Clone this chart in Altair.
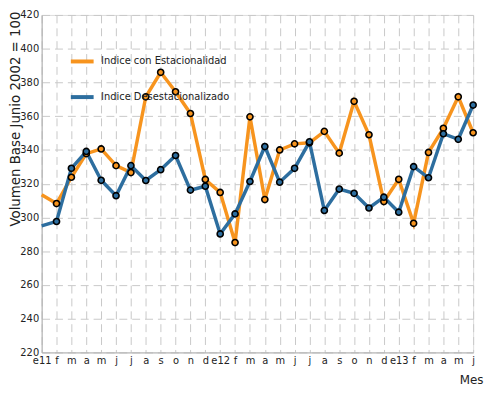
import altair as alt
import pandas as pd

months = ["e11", "f", "m", "a", "m", "j", "j", "a", "s", "o", "n", "d",
          "e12", "f", "m", "a", "m", "j", "j", "a", "s", "o", "n", "d",
          "e13", "f", "m", "a", "m", "j"]
con_estacionalidad = [313.5, 308.2, 323.8, 337.8, 340.6, 330.7, 326.6, 371.5, 386.0, 374.5,
                      361.6, 322.5, 314.8, 285.1, 359.6, 310.6, 340.0, 343.6, 344.2, 351.0,
                      338.1, 368.8, 349.0, 309.4, 322.6, 296.5, 338.5, 352.8, 371.5, 350.2]
desestacionalizado = [295.0, 297.6, 329.1, 339.1, 322.0, 312.9, 330.7, 321.9, 328.3, 336.7,
                      316.2, 318.5, 290.2, 302.1, 321.3, 342.0, 320.9, 329.1, 344.8, 304.1,
                      316.8, 314.3, 305.6, 312.0, 303.1, 330.1, 323.5, 349.6, 346.3, 366.6]
series_names = ["Indice con Estacionalidad", "Indice Desestacionalizado"]
series_colors = ["#F7941E", "#2D6E9F"]
y_ticks = list(range(220, 421, 20))

rows = []
for i, m in enumerate(months):
    rows.append({"idx": i, "mes": m, "serie": series_names[0], "valor": con_estacionalidad[i]})
    rows.append({"idx": i, "mes": m, "serie": series_names[1], "valor": desestacionalizado[i]})
df = pd.DataFrame(rows)

label_expr = "[" + ",".join("'%s'" % m for m in months) + "][datum.value]"

x_enc = alt.X("idx:Q",
              scale=alt.Scale(domain=[0, len(months) - 1], nice=False, zero=False),
              axis=alt.Axis(values=list(range(len(months))), labelExpr=label_expr,
                            title="Mes", titleAnchor="end", titleFontSize=12,
                            titleFontWeight="normal", titlePadding=9, titleColor="#222",
                            titleX=446,
                            labelFontSize=10, labelColor="#222", labelPadding=3,
                            labelFlush=False, labelOverlap=False, labelAngle=0,
                            ticks=False, domainColor="#b0b0b0",
                            grid=True, gridColor="#c8c8c8", gridDash=[8, 5], gridWidth=1))
y_enc = alt.Y("valor:Q",
              scale=alt.Scale(domain=[220, 420], nice=False, zero=False),
              axis=alt.Axis(values=y_ticks, title="Volumen Base Junio 2002 = 100",
                            titleFontSize=13.5, titleFontWeight="normal", titleColor="#222",
                            titleAngle=-90, titleAlign="right", titleAnchor="end",
                            titleX=-22, titleY=-4, titleBaseline="alphabetic",
                            labelFontSize=10, labelColor="#222", labelPadding=3,
                            ticks=False, domainColor="#b0b0b0",
                            grid=True, gridColor="#c8c8c8", gridDash=[8, 5], gridWidth=1))
color_enc = alt.Color("serie:N",
                      scale=alt.Scale(domain=series_names, range=series_colors),
                      legend=alt.Legend(title=None, orient="none", legendX=27, legendY=33,
                                        symbolType="stroke", symbolSize=530,
                                        symbolStrokeWidth=4, labelFontSize=10,
                                        labelColor="#222", labelOffset=5,
                                        rowPadding=14, padding=0))

lines = alt.Chart(df).mark_line(strokeWidth=3.5).encode(
    x=x_enc, y=y_enc, color=color_enc, detail="serie:N"
)
points = alt.Chart(df).transform_filter("datum.idx > 0").mark_point(
    filled=True, size=38, stroke="black", strokeWidth=1.6, opacity=1
).encode(
    x=x_enc, y=y_enc,
    color=alt.Color("serie:N", scale=alt.Scale(domain=series_names, range=series_colors),
                    legend=None)
)

chart = alt.layer(lines, points).properties(
    width=436, height=341,
    autosize=alt.AutoSizeParams(type="none"),
    padding={"left": 34, "top": 5, "right": 12, "bottom": 40},
).configure_view(stroke=None).configure(font="DejaVu Sans")

chart.save("out.html", embed_options={"renderer": "svg", "actions": False})
